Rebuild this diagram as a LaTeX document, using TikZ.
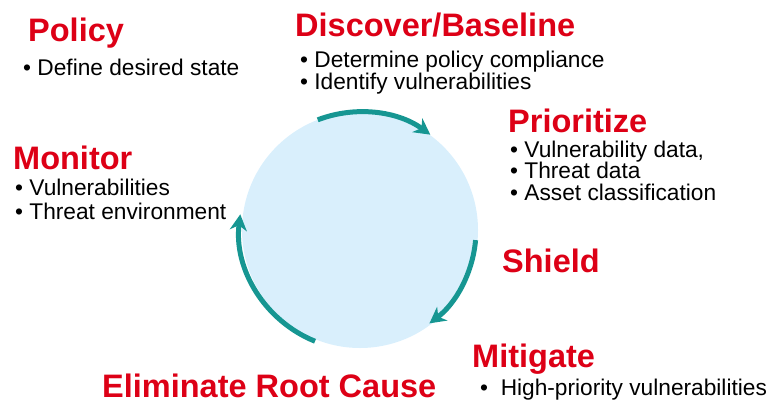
\documentclass[tikz,border=0pt]{standalone}
\usepackage{fontspec}
\setmainfont{Liberation Sans}
\usetikzlibrary{arrows.meta}
\definecolor{phasered}{RGB}{221,0,22}
\definecolor{cycleteal}{RGB}{22,150,146}
\definecolor{cyclefill}{RGB}{217,239,252}
\tikzset{
 phase/.style={anchor=base west,inner sep=0pt,text=phasered,font=\fontsize{32.5}{35}\selectfont\bfseries},
 item/.style={anchor=base west,inner sep=0pt,font=\fontsize{22.7}{25}\selectfont},
 turn/.style={line width=5pt,draw=cycleteal,-{Stealth[length=16pt,width=17pt,inset=5pt]}}
}
\begin{document}
\begin{tikzpicture}[x=1pt,y=-1pt]
 \useasboundingbox (0,0) rectangle (768,404);
 \node[circle,fill=cyclefill,minimum size=236pt,inner sep=0pt] (wheel) at (360,230) {}; %circle
 \draw[turn] ([shift={(-111:118)}]wheel.center) arc[start angle=-111,end angle=-54,radius=119]; %top arrow
 \draw[turn] ([shift={(5:116)}]wheel.center) arc[start angle=5,end angle=53,radius=117]; %right arrow
 \draw[turn] ([shift={(112:120)}]wheel.center) arc[start angle=112,end angle=187,radius=121]; %left arrow
 \node[phase] (policy) at (28,42) {Policy};
 \node[item] (policy1) at (23,75) {\textbullet\ Define desired state};
 \node[phase] (discover) at (295,37) {Discover/Baseline};
 \foreach \t [count=\i] in {Determine policy compliance,Identify vulnerabilities}
  \node[item] (discover\i) at (300,45+22*\i) {\textbullet\ \t};
 \node[phase] (prioritize) at (508,132) {Prioritize};
 \foreach \t [count=\i] in {{Vulnerability data,},Threat data,Asset classification}
  \node[item] (prioritize\i) at (510,135.5+21.5*\i) {\textbullet\ \t};
 \node[phase] (monitor) at (13,169) {Monitor};
 \foreach \t [count=\i] in {Vulnerabilities,Threat environment}
  \node[item] (monitor\i) at (15,171+24*\i) {\textbullet\ \t};
 \node[phase] (shield) at (502,272) {Shield};
 \node[phase] (mitigate) at (472,367) {Mitigate};
 \node[item] (mitigate1) at (480,395) {\textbullet\ \ High-priority vulnerabilities};
 \node[phase] (eliminate) at (102,397) {Eliminate Root Cause};
\end{tikzpicture}
\end{document}
